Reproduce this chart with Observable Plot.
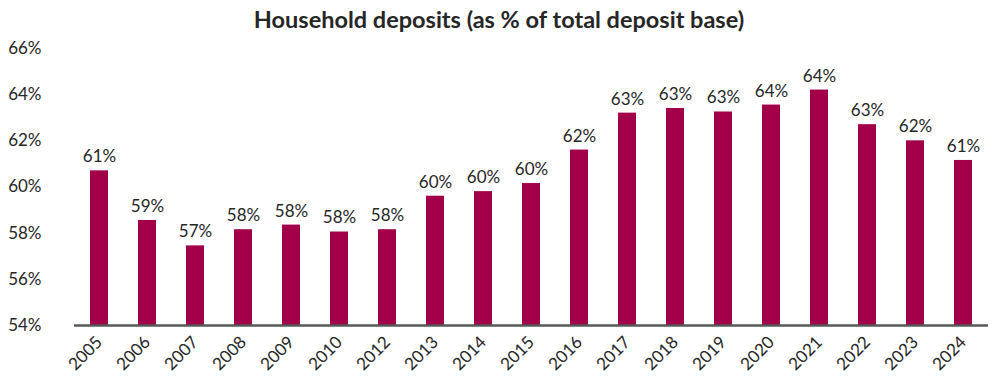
<!DOCTYPE html>
<html>
<head>
<meta charset="utf-8">
<script src="https://cdn.jsdelivr.net/npm/d3@7"></script>
<script src="https://cdn.jsdelivr.net/npm/@observablehq/plot@0.6"></script>
<style>
  html, body { margin: 0; padding: 0; background: #fff; }
  body { width: 998px; height: 378px; overflow: hidden; font-family: Lato, "Open Sans", sans-serif; }
  #title { height: 38px; line-height: 38px; text-align: center; font-weight: bold; font-size: 23.5px; color: #262626; }
</style>
</head>
<body>
<div id="title">Household deposits (as % of total deposit base)</div>
<div id="chart"></div>
<script>
const years = ["2005","2006","2007","2008","2009","2010","2012","2013","2014","2015","2016","2017","2018","2019","2020","2021","2022","2023","2024"];
const shares = [60.7, 58.55, 57.45, 58.15, 58.35, 58.05, 58.15, 59.6, 59.8, 60.15, 61.6, 63.2, 63.4, 63.25, 63.55, 64.2, 62.7, 62.0, 61.15];
const yTicks = [54, 56, 58, 60, 62, 64, 66];

const data = years.map((y, i) => ({year: y, value: shares[i]}));
const color = "#A3004A";
const textColor = "#262626";

const chart = Plot.plot({
  width: 998,
  height: 340,
  marginTop: 10,
  marginBottom: 53,
  marginLeft: 74,
  marginRight: 10,
  style: {fontFamily: "Lato, 'Open Sans', sans-serif", fontSize: "17px", color: textColor, background: "#fff"},
  x: {domain: years, paddingInner: 0.63, paddingOuter: 0.315, label: null},
  y: {domain: [54, 66], label: null},
  marks: [
    Plot.barY(data, {x: "year", y1: 54, y2: "value", fill: color}),
    Plot.text(data, {x: "year", y: "value", text: d => Math.round(d.value) + "%", dy: -14, fontSize: 17, fill: textColor}),
    Plot.ruleY([54], {stroke: "#595959", strokeWidth: 2.5}),
    Plot.axisY({ticks: yTicks, tickFormat: d => d + "%", tickSize: 0, tickPadding: 0, dx: -33, textAnchor: "end", fontSize: 17, fill: textColor}),
    Plot.axisX({tickSize: 0, tickRotate: -45, tickPadding: 14, fontSize: 17, fill: textColor})
  ]
});
document.getElementById("chart").appendChild(chart);
</script>
</body>
</html>
